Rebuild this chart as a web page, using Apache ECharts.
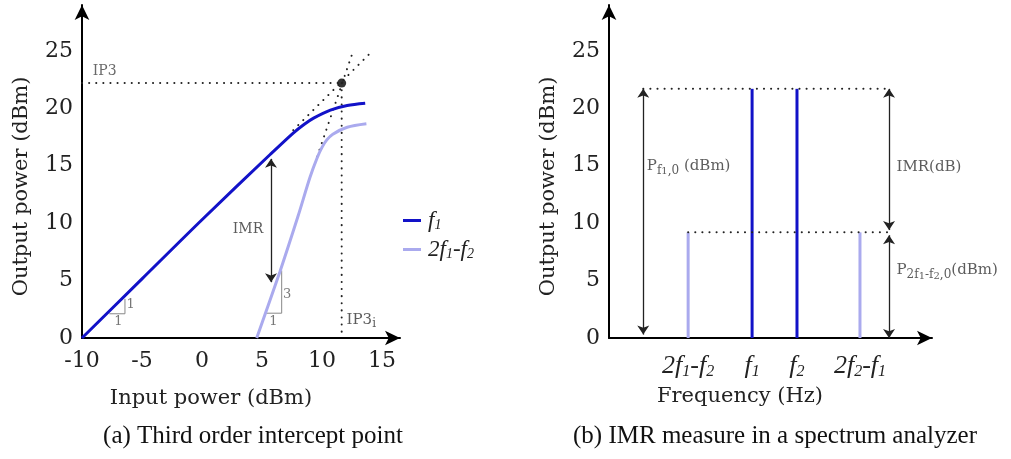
<!DOCTYPE html>
<html>
<head>
<meta charset="utf-8">
<script src="https://cdn.jsdelivr.net/npm/echarts@6/dist/echarts.min.js"></script>
<style>
  html, body { margin: 0; padding: 0; background: #fff; }
  #chart { width: 1011px; height: 459px; }
</style>
</head>
<body>
<div id="chart"></div>
<script>
// (a) third order intercept point
const inputPower = [-10, -5, 0, 5.7, 7.6, 8.5, 9.3, 10.7, 12.1, 13.6];
const outF1 = [0, 5.15, 10.3, 16.0, 17.85, 18.6, 19.15, 19.85, 20.25, 20.45];
const inputPowerIM = [4.56, 6.5, 8.0, 9.0, 9.6, 10.0, 10.4, 10.9, 12.1, 13.7];
const outIM3 = [0, 5.8, 10.6, 14.0, 15.7, 16.6, 17.25, 17.75, 18.35, 18.65];
const ip3Point = [11.64, 22.2];
const slope1Ext = [[7.6, 18.1], [14.2, 25.0]];
const slope3Ext = [[9.6, 15.8], [12.6, 25.0]];
const slope1Tri = [[-7.72, 2.11], [-6.42, 2.11], [-6.42, 3.41]];
const slope3Tri = [[5.33, 2.16], [6.64, 2.16], [6.64, 5.88]];
const imrArrowA = [5.75, 15.6, 4.86];
const xTicksA = [-10, -5, 0, 5, 10, 15];
const yTicks = [0, 5, 10, 15, 20, 25];

// (b) spectrum analyzer
const specNames = ['2f1-f2', 'f1', 'f2', '2f2-f1'];
const specPos = [2.45, 4.43, 5.82, 7.77];
const specPower = [9.2, 21.7, 21.7, 9.2];
const pf1ArrowX = 1.06;
const imrArrowX = 8.67;

const BLUE = '#1212c8';
const LAV = '#aaaaee';
const SERIF = 'DejaVu Serif';
const DOT = [0.1, 7];

const richMath = {
  m: { fontFamily: 'Liberation Serif', fontStyle: 'italic', fontSize: 26, color: '#222' },
  s: { fontFamily: 'Liberation Serif', fontStyle: 'italic', fontSize: 16, color: '#222', verticalAlign: 'bottom', padding: [11, 0, 0, 0] }
};
const legendRich = {
  m: { fontFamily: 'Liberation Serif', fontStyle: 'italic', fontSize: 23, color: '#222' },
  s: { fontFamily: 'Liberation Serif', fontStyle: 'italic', fontSize: 14, color: '#222', verticalAlign: 'bottom', padding: [9, 0, 0, 0] }
};
function mathLabel(name) {
  // "2f1-f2" -> 2f with subscript 1, -f with subscript 2
  return name.replace(/(\d?f)(\d)/g, '{m|$1}{s|$2}').replace(/-/g, '{m|-}');
}

const smallRich = {
  t: { fontFamily: SERIF, fontSize: 15, color: '#333' },
  s: { fontFamily: SERIF, fontSize: 12, color: '#333', verticalAlign: 'bottom', padding: [9, 0, 0, 0] },
  ss: { fontFamily: SERIF, fontSize: 10, color: '#333', verticalAlign: 'bottom', padding: [12, 0, 0, 0] }
};

function note(xi, yi, pos, txt, opts) {
  return {
    type: 'scatter', xAxisIndex: xi, yAxisIndex: yi, symbolSize: 0, silent: true,
    data: [pos],
    label: Object.assign({
      show: true, position: 'right', distance: 0, formatter: txt,
      fontFamily: SERIF, fontSize: 15, color: '#333', rich: smallRich
    }, opts || {})
  };
}
function dotted(xi, yi, pts) {
  return {
    type: 'line', xAxisIndex: xi, yAxisIndex: yi, data: pts, symbol: 'none', silent: true,
    lineStyle: { color: '#222', width: 2, type: DOT, cap: 'round' }
  };
}
function arrows(xi, yi, lines) {
  return {
    type: 'line', xAxisIndex: xi, yAxisIndex: yi, data: [], silent: true,
    markLine: {
      silent: true, animation: false, symbol: ['arrow', 'arrow'], symbolSize: 9,
      label: { show: false },
      lineStyle: { color: '#222', width: 1.3, type: 'solid' },
      data: lines.map(l => [{ coord: l[0] }, { coord: l[1] }])
    }
  };
}

const axisLineStyle = { color: '#000', width: 2 };
function yAxisFor(grid) {
  return {
    type: 'value', gridIndex: grid, min: 0, max: 29,
    name: 'Output power (dBm)', nameLocation: 'middle', nameGap: 50, nameRotate: 90,
    nameTextStyle: { fontFamily: SERIF, fontSize: 21, color: '#222', padding: [0, 30, 0, 0] },
    axisLine: { show: true, onZero: false, symbol: ['none', 'arrow'], symbolSize: [11, 15], lineStyle: axisLineStyle },
    axisTick: { show: false },
    splitLine: { show: false },
    axisLabel: { customValues: yTicks, margin: 9, fontFamily: SERIF, fontSize: 22, color: '#222' }
  };
}

const chart = echarts.init(document.getElementById('chart'));
chart.setOption({
  animation: false,
  backgroundColor: '#fff',
  title: [
    { text: '(a) Third order intercept point', left: 248, top: 419, textAlign: 'center',
      textStyle: { fontFamily: 'Liberation Serif', fontWeight: 'normal', fontSize: 25, color: '#111' } },
    { text: '(b) IMR measure in a spectrum analyzer', left: 770, top: 419, textAlign: 'center',
      textStyle: { fontFamily: 'Liberation Serif', fontWeight: 'normal', fontSize: 25, color: '#111' } }
  ],
  grid: [
    { left: 82, top: 5, width: 318, height: 333 },
    { left: 609, top: 5, width: 323, height: 333 }
  ],
  legend: {
    data: ['f1', '2f1-f2'], orient: 'vertical', left: 398, top: 204, itemGap: 6,
    itemWidth: 18, itemHeight: 3, icon: 'rect',
    formatter: mathLabel,
    textStyle: { rich: legendRich, padding: [0, 0, 0, 2] }
  },
  xAxis: [
    {
      type: 'value', gridIndex: 0, min: -10, max: 16.5,
      name: 'Input power (dBm)', nameLocation: 'middle', nameGap: 50,
      nameTextStyle: { fontFamily: SERIF, fontSize: 21, color: '#222', padding: [0, 60, 0, 0] },
      axisLine: { show: true, onZero: false, symbol: ['none', 'arrow'], symbolSize: [11, 15], lineStyle: axisLineStyle },
      axisTick: { show: false },
      splitLine: { show: false },
      axisLabel: { customValues: xTicksA, margin: 12, fontFamily: SERIF, fontSize: 22, color: '#222' }
    },
    {
      type: 'value', gridIndex: 1, min: 0, max: 10,
      name: 'Frequency (Hz)', nameLocation: 'middle', nameGap: 48,
      nameTextStyle: { fontFamily: SERIF, fontSize: 21, color: '#222', padding: [0, 61, 0, 0] },
      axisLine: { show: true, onZero: false, symbol: ['none', 'arrow'], symbolSize: [11, 15], lineStyle: axisLineStyle },
      axisTick: { show: false },
      splitLine: { show: false },
      axisLabel: {
        customValues: specPos, margin: 15, rich: richMath,
        formatter: v => mathLabel(specNames[specPos.indexOf(v)] || '')
      }
    }
  ],
  yAxis: [yAxisFor(0), yAxisFor(1)],
  series: [
    // helper lines, left panel
    dotted(0, 0, [[-10, ip3Point[1]], ip3Point]),
    dotted(0, 0, [ip3Point, [ip3Point[0], 0]]),
    dotted(0, 0, slope1Ext),
    dotted(0, 0, slope3Ext),
    {
      type: 'line', xAxisIndex: 0, yAxisIndex: 0, data: slope1Tri, symbol: 'none', silent: true,
      lineStyle: { color: '#888', width: 1 }
    },
    {
      type: 'line', xAxisIndex: 0, yAxisIndex: 0, data: slope3Tri, symbol: 'none', silent: true,
      lineStyle: { color: '#888', width: 1 }
    },
    {
      name: 'f1', type: 'line', xAxisIndex: 0, yAxisIndex: 0, symbol: 'none',
      smooth: 0.3, color: BLUE,
      lineStyle: { color: BLUE, width: 3 },
      data: inputPower.map((x, i) => [x, outF1[i]])
    },
    {
      name: '2f1-f2', type: 'line', xAxisIndex: 0, yAxisIndex: 0, symbol: 'none',
      smooth: 0.3, color: LAV,
      lineStyle: { color: LAV, width: 3 },
      data: inputPowerIM.map((x, i) => [x, outIM3[i]])
    },
    {
      type: 'scatter', xAxisIndex: 0, yAxisIndex: 0, symbolSize: 9, silent: true,
      itemStyle: { color: '#000' }, data: [ip3Point]
    },
    arrows(0, 0, [[[imrArrowA[0], imrArrowA[1]], [imrArrowA[0], imrArrowA[2]]]]),
    note(0, 0, [-9.1, 23.2], 'IP3', { color: '#444', fontSize: 14 }),
    note(0, 0, [5.1, 9.5], 'IMR', { position: 'left', fontSize: 14 }),
    note(0, 0, [12.05, 1.6], '{t|IP3}{s|i}'),
    note(0, 0, [-6.97, 1.45], '1', { position: 'inside', fontSize: 13, color: '#555' }),
    note(0, 0, [-5.95, 2.9], '1', { position: 'inside', fontSize: 13, color: '#555' }),
    note(0, 0, [5.95, 1.4], '1', { position: 'inside', fontSize: 13, color: '#555' }),
    note(0, 0, [7.1, 3.8], '3', { position: 'inside', fontSize: 13, color: '#555' }),

    // right panel
    dotted(1, 1, [[pf1ArrowX, specPower[1]], [imrArrowX, specPower[1]]]),
    dotted(1, 1, [[specPos[0], specPower[0]], [imrArrowX, specPower[0]]]),
    {
      type: 'bar', xAxisIndex: 1, yAxisIndex: 1, barWidth: 3, silent: true,
      data: specPos.map((x, i) => ({
        value: [x, specPower[i]],
        itemStyle: { color: specNames[i].length > 2 ? LAV : BLUE }
      }))
    },
    arrows(1, 1, [
      [[pf1ArrowX, specPower[1]], [pf1ArrowX, 0.3]],
      [[imrArrowX, specPower[1]], [imrArrowX, 9.4]],
      [[imrArrowX, 8.95], [imrArrowX, 0]]
    ]),
    note(1, 1, [1.17, 15.0], '{t|P}{s|f}{ss|1}{s|,0} {t|(dBm)}'),
    note(1, 1, [8.9, 14.9], 'IMR(dB)'),
    note(1, 1, [8.9, 5.9], '{t|P}{s|2f}{ss|1}{s|-f}{ss|2}{s|,0}{t|(dBm)}')
  ]
});
</script>
</body>
</html>
